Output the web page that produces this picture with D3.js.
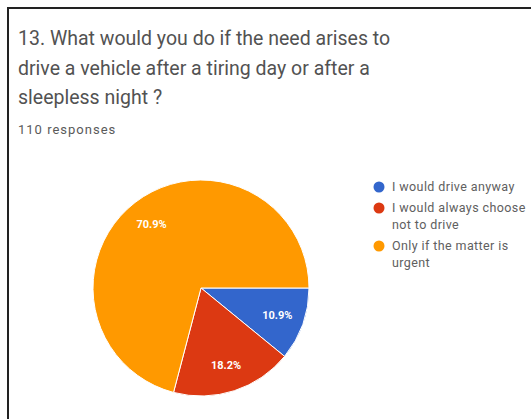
<!DOCTYPE html>
<html>
<head>
<meta charset="utf-8">
<script src="https://cdn.jsdelivr.net/npm/d3@7"></script>
<style>
  body { margin: 0; background: #fff; }
  text { font-family: Roboto, Arial, sans-serif; }
</style>
</head>
<body>
<svg id="chart" width="531" height="419"></svg>
<script>
const titleLines = [
  "13. What would you do if the need arises to",
  "drive a vehicle after a tiring day or after a",
  "sleepless night ?"
];
const subtitle = "110 responses";
const categories = ["I would drive anyway", "I would always choose not to drive", "Only if the matter is urgent"];
const legendLines = [["I would drive anyway"], ["I would always choose", "not to drive"], ["Only if the matter is", "urgent"]];
const counts = [12, 20, 78];
const colors = ["#3366cc", "#dc3912", "#ff9900"];

const svg = d3.select("#chart");
const width = +svg.attr("width");
const height = +svg.attr("height");

svg.append("rect").attr("width", width).attr("height", height).attr("fill", "#fff");

// frame, only the top and left edges are visible
svg.append("path")
  .attr("d", `M8,${height} V8 H${width}`)
  .attr("fill", "none")
  .attr("stroke", "#222")
  .attr("stroke-width", 2);

svg.append("g").selectAll("text")
  .data(titleLines)
  .join("text")
  .attr("x", 18)
  .attr("y", (d, i) => 45 + i * 29.5)
  .attr("font-size", 19.5)
  .attr("fill", "#525252")
  .text(d => d);

svg.append("text")
  .attr("x", 18).attr("y", 134)
  .attr("font-size", 13)
  .attr("letter-spacing", 1)
  .attr("fill", "#5a5a5a")
  .text(subtitle);

const total = d3.sum(counts);
const cx = 201, cy = 288, r = 108;

const pie = d3.pie().sort(null).startAngle(Math.PI / 2).endAngle(Math.PI / 2 + 2 * Math.PI);
const arcs = pie(counts);
const arc = d3.arc().innerRadius(0).outerRadius(r);
const labelArc = d3.arc().innerRadius(r * 0.75).outerRadius(r * 0.75);

const g = svg.append("g").attr("transform", `translate(${cx},${cy})`);
g.selectAll("path")
  .data(arcs)
  .join("path")
  .attr("d", arc)
  .attr("fill", (d, i) => colors[i])
  .attr("stroke", "#fff")
  .attr("stroke-width", 1);

const fmt = d3.format(".1%");
g.selectAll("text")
  .data(arcs)
  .join("text")
  .attr("transform", d => `translate(${labelArc.centroid(d)})`)
  .attr("text-anchor", "middle")
  .attr("dy", "0.35em")
  .attr("font-size", 11)
  .attr("font-weight", "bold")
  .attr("fill", "#fff")
  .text(d => fmt(d.data / total));

// legend
const legendY = [187, 208, 246];
const legend = svg.append("g").selectAll("g")
  .data(categories)
  .join("g")
  .attr("transform", (d, i) => `translate(379,${legendY[i]})`);
legend.append("circle").attr("r", 5.5).attr("fill", (d, i) => colors[i]);
legend.each(function (d, i) {
  d3.select(this).selectAll("text")
    .data(legendLines[i])
    .join("text")
    .attr("x", 13)
    .attr("y", (t, j) => j * 17)
    .attr("dy", "0.35em")
    .attr("font-size", 12.5)
    .attr("letter-spacing", 0.4)
    .attr("fill", "#606060")
    .text(t => t);
});
</script>
</body>
</html>
